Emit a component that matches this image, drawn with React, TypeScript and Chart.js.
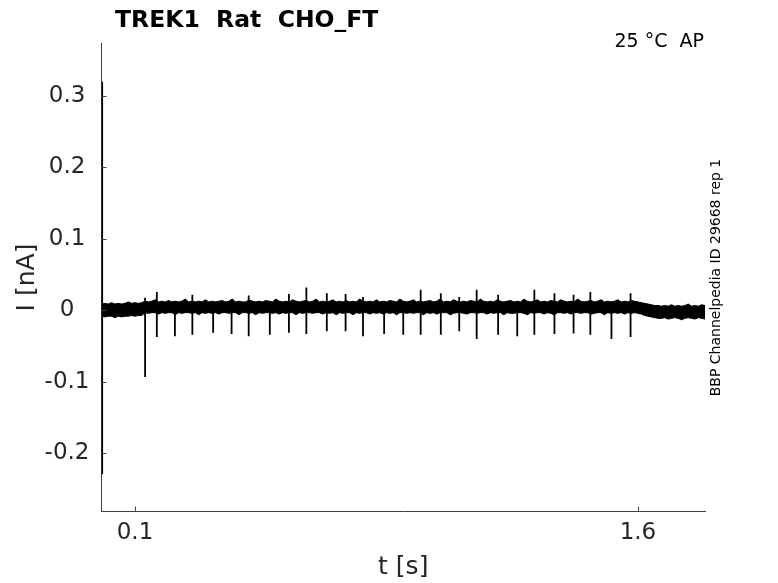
import React, { useEffect, useRef } from "react";
import { Chart, registerables } from "chart.js";

Chart.register(...registerables);

// ---------- data ----------
const titleText = "TREK1  Rat  CHO_FT";
const conditionText = "25 °C  AP";
const sideText = "BBP Channelpedia ID 29668 rep 1";
const xLabel = "t [s]";
const yLabel = "I [nA]";

const xRange = [0, 1.8];
const yRange = [-0.2814, 0.3737];
const xTicks = [0.1, 1.6];
const yTicks = [-0.2, -0.1, 0, 0.1, 0.2, 0.3];

// noise band of the current trace, sampled every bandStep seconds from t = 0
const bandStep = 0.01;
const bandUpper = [
  0.009, 0.010, 0.009, 0.011, 0.009, 0.010, 0.009, 0.010, 0.012, 0.010, 0.011, 0.010, 0.011,
  0.013, 0.012, 0.013, 0.015, 0.012, 0.013, 0.012, 0.014, 0.012, 0.013,
  0.012, 0.013, 0.016, 0.012, 0.013, 0.012, 0.013, 0.012, 0.015, 0.012,
  0.013, 0.012, 0.013, 0.014, 0.012, 0.013, 0.016, 0.012, 0.013, 0.012,
  0.012, 0.015, 0.013, 0.012, 0.013, 0.012, 0.014, 0.013, 0.012, 0.016,
  0.013, 0.012, 0.013, 0.012, 0.015, 0.013, 0.012, 0.013, 0.014, 0.012,
  0.013, 0.016, 0.012, 0.013, 0.012, 0.013, 0.015, 0.012, 0.013, 0.012,
  0.014, 0.012, 0.013, 0.012, 0.016, 0.013, 0.012, 0.013, 0.012, 0.015,
  0.012, 0.013, 0.012, 0.014, 0.013, 0.012, 0.016, 0.013, 0.012, 0.013,
  0.015, 0.012, 0.013, 0.012, 0.013, 0.014, 0.012, 0.013, 0.016, 0.012,
  0.013, 0.012, 0.015, 0.013, 0.012, 0.013, 0.012, 0.014, 0.013, 0.012,
  0.016, 0.013, 0.012, 0.013, 0.012, 0.015, 0.013, 0.012, 0.013, 0.014,
  0.012, 0.013, 0.012, 0.016, 0.013, 0.012, 0.013, 0.015, 0.012, 0.013,
  0.012, 0.014, 0.013, 0.012, 0.015, 0.013, 0.012, 0.013, 0.012, 0.016,
  0.013, 0.012, 0.013, 0.014, 0.012, 0.013, 0.015, 0.012, 0.013, 0.012,
  0.013, 0.015, 0.012, 0.013, 0.012, 0.014, 0.013,
  0.012, 0.011, 0.010, 0.009, 0.008, 0.007, 0.007,
  0.006, 0.007, 0.006, 0.008, 0.006, 0.007, 0.006, 0.007, 0.009, 0.006, 0.007, 0.006, 0.008, 0.007,
];
const bandLower = [
  -0.008, -0.009, -0.008, -0.008, -0.010, -0.008, -0.009, -0.008, -0.008, -0.007, -0.008, -0.007, -0.007,
  -0.003, -0.004, -0.003, -0.003, -0.005, -0.003, -0.004, -0.003, -0.003, -0.006,
  -0.003, -0.004, -0.003, -0.003, -0.004, -0.003, -0.006, -0.003, -0.004, -0.003,
  -0.004, -0.003, -0.005, -0.003, -0.003, -0.004, -0.003, -0.003, -0.006, -0.003,
  -0.003, -0.004, -0.003, -0.006, -0.003, -0.004, -0.003, -0.003, -0.004, -0.003,
  -0.005, -0.003, -0.004, -0.003, -0.003, -0.006, -0.003, -0.004, -0.003, -0.003,
  -0.004, -0.003, -0.003, -0.005, -0.003, -0.004, -0.003, -0.006, -0.003, -0.004,
  -0.003, -0.003, -0.006, -0.003, -0.004, -0.003, -0.003, -0.005, -0.003, -0.004,
  -0.003, -0.005, -0.003, -0.004, -0.003, -0.006, -0.003, -0.003, -0.004, -0.003,
  -0.004, -0.003, -0.003, -0.006, -0.003, -0.004, -0.003, -0.005, -0.003, -0.003,
  -0.003, -0.006, -0.004, -0.003, -0.003, -0.004, -0.005, -0.003, -0.003, -0.004,
  -0.003, -0.003, -0.005, -0.003, -0.004, -0.003, -0.003, -0.006, -0.003, -0.004,
  -0.004, -0.003, -0.003, -0.004, -0.006, -0.003, -0.004, -0.003, -0.003, -0.005,
  -0.003, -0.004, -0.006, -0.003, -0.003, -0.004, -0.003, -0.005, -0.003, -0.003,
  -0.004, -0.003, -0.003, -0.005, -0.004, -0.003, -0.003, -0.006, -0.003, -0.004,
  -0.003, -0.004, -0.003, -0.005, -0.003, -0.004, -0.003,
  -0.004, -0.005, -0.007, -0.008, -0.009, -0.010, -0.011,
  -0.011, -0.010, -0.012, -0.011, -0.010, -0.011, -0.013, -0.011, -0.010, -0.011, -0.012, -0.010, -0.011, -0.012,
];

// spikes (capacitive transients) of the trace
const spikeTimes = [
  0.002, 0.130, 0.165, 0.219, 0.271, 0.333, 0.388, 0.439, 0.502, 0.559,
  0.611, 0.672, 0.728, 0.780, 0.843, 0.900, 0.952, 1.012, 1.067, 1.119,
  1.183, 1.240, 1.291, 1.351, 1.408, 1.458, 1.521, 1.578,
];
const spikeUp = [
  0.320, 0.018, 0.026, 0.012, 0.022, 0.013, 0.012, 0.021, 0.013, 0.023,
  0.032, 0.024, 0.023, 0.019, 0.013, 0.013, 0.029, 0.024, 0.019, 0.029,
  0.022, 0.012, 0.029, 0.024, 0.022, 0.026, 0.013, 0.024,
];
const spikeDown = [
  -0.229, -0.093, -0.037, -0.036, -0.034, -0.031, -0.033, -0.036, -0.034, -0.031,
  -0.033, -0.029, -0.029, -0.036, -0.033, -0.034, -0.034, -0.034, -0.029, -0.040,
  -0.034, -0.036, -0.034, -0.033, -0.032, -0.034, -0.040, -0.037,
];

// ---------- chart ----------
const FONT = "'DejaVu Sans', sans-serif";
const TEXT = "#262626";
const AXIS = "#404040";

export default function App() {
  const ref = useRef<HTMLCanvasElement | null>(null);

  useEffect(() => {
    document.body.style.margin = "0";
    const canvas = ref.current;
    if (!canvas) return;

    const upper = bandUpper.map((v, i) => ({ x: i * bandStep, y: v }));
    const lower = bandLower.map((v, i) => ({ x: i * bandStep, y: v }));
    const spikes: { x: number; y: number }[] = [];
    spikeTimes.forEach((t, i) => {
      const k = Math.min(bandUpper.length - 1, Math.round(t / bandStep));
      const base = (bandUpper[k] + bandLower[k]) / 2;
      spikes.push({ x: t, y: base });
      spikes.push({ x: t, y: spikeUp[i] });
      spikes.push({ x: t, y: spikeDown[i] });
      spikes.push({ x: t, y: base });
    });

    const decor = {
      id: "decor",
      afterDraw(chart: any) {
        const { ctx, chartArea, scales } = chart;
        const xs = scales.x;
        const ys = scales.y;
        ctx.save();
        // inward tick marks
        ctx.strokeStyle = AXIS;
        ctx.lineWidth = 1;
        ctx.beginPath();
        xTicks.forEach((v) => {
          const px = Math.round(xs.getPixelForValue(v)) + 0.5;
          ctx.moveTo(px, chartArea.bottom);
          ctx.lineTo(px, chartArea.bottom - 5);
        });
        yTicks.forEach((v) => {
          const py = Math.round(ys.getPixelForValue(v)) + 0.5;
          ctx.moveTo(chartArea.left, py);
          ctx.lineTo(chartArea.left + 5, py);
        });
        ctx.stroke();

        // title
        ctx.fillStyle = "#000";
        ctx.font = `bold 23.5px ${FONT}`;
        ctx.textAlign = "left";
        ctx.textBaseline = "alphabetic";
        ctx.fillText(titleText, 115, 27);

        // condition text
        ctx.font = `19px ${FONT}`;
        ctx.textAlign = "right";
        ctx.fillText(conditionText, chartArea.right - 1, 47);

        // side text
        ctx.font = `14px ${FONT}`;
        ctx.textAlign = "center";
        ctx.textBaseline = "middle";
        ctx.translate(716, (chartArea.top + chartArea.bottom) / 2);
        ctx.rotate(-Math.PI / 2);
        ctx.fillText(sideText, 0, 0);
        ctx.restore();
      },
    };

    const chart = new Chart(canvas, {
      type: "scatter",
      data: {
        datasets: [
          {
            data: upper,
            showLine: true,
            borderColor: "#000",
            borderWidth: 1,
            pointRadius: 0,
            pointHoverRadius: 0,
            fill: false,
            tension: 0,
          },
          {
            data: lower,
            showLine: true,
            borderColor: "#000",
            backgroundColor: "#000",
            borderWidth: 1,
            pointRadius: 0,
            pointHoverRadius: 0,
            fill: "-1",
            tension: 0,
          },
          {
            data: spikes,
            showLine: true,
            borderColor: "#000",
            borderWidth: 1.8,
            pointRadius: 0,
            pointHoverRadius: 0,
            fill: false,
            tension: 0,
          },
        ],
      },
      options: {
        animation: false,
        responsive: false,
        devicePixelRatio: 1,
        events: [],
        layout: { padding: { left: 0, right: 73, top: 43.3, bottom: 0 } },
        plugins: {
          legend: { display: false },
          tooltip: { enabled: false },
          title: { display: false },
        },
        scales: {
          x: {
            type: "linear",
            min: xRange[0],
            max: xRange[1],
            afterBuildTicks: (s: any) => {
              s.ticks = xTicks.map((v) => ({ value: v }));
            },
            afterFit: (s: any) => {
              s.height = 71.3;
            },
            grid: { display: false, drawTicks: false },
            border: { display: true, color: AXIS, width: 1 },
            ticks: {
              color: TEXT,
              font: { family: FONT, size: 23 },
              padding: 7.5,
              maxRotation: 0,
              callback: (v: any) => String(Math.round(Number(v) * 10) / 10),
            },
            title: {
              display: true,
              text: xLabel,
              color: TEXT,
              font: { family: FONT, size: 25 },
              padding: { top: 0, bottom: 1 },
            },
          },
          y: {
            type: "linear",
            min: yRange[0],
            max: yRange[1],
            afterBuildTicks: (s: any) => {
              s.ticks = yTicks.map((v) => ({ value: v }));
            },
            afterFit: (s: any) => {
              s.width = 101.5;
            },
            grid: { display: false, drawTicks: false },
            border: { display: true, color: AXIS, width: 1 },
            ticks: {
              color: TEXT,
              font: { family: FONT, size: 23 },
              padding: 12,
              crossAlign: "center",
              callback: (v: any) => String(Math.round(Number(v) * 10) / 10),
            },
            title: {
              display: true,
              text: yLabel,
              color: TEXT,
              font: { family: FONT, size: 25 },
              padding: { top: 12.5, bottom: 0 },
            },
          },
        },
      },
      plugins: [decor],
    });

    return () => chart.destroy();
  }, []);

  return (
    <div style={{ position: "absolute", left: 0, top: 0, width: 778, height: 583, background: "#fff" }}>
      <canvas ref={ref} width={778} height={583} style={{ display: "block" }} />
    </div>
  );
}
